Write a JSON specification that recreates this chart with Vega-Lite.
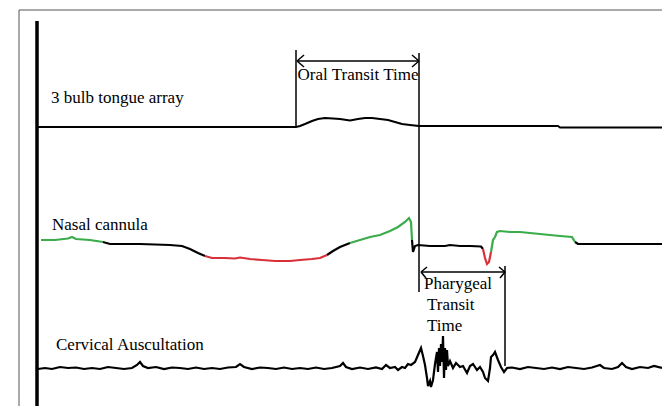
{
  "$schema": "https://vega.github.io/schema/vega-lite/v6.json",
  "width": 662,
  "height": 406,
  "autosize": {"type": "none"},
  "padding": 0,
  "background": "white",
  "config": {"view": {"stroke": null}},
  "datasets": {
    "frame": [
      {"x": 19, "y": 10, "x2": 662, "y2": 10},
      {"x": 19, "y": 10, "x2": 19, "y2": 406}
    ],
    "axis": [
      {"x": 37, "y": 21, "x2": 37, "y2": 406}
    ],
    "rules": [
      {"x": 296, "y": 50, "x2": 296, "y2": 127},
      {"x": 419, "y": 53, "x2": 419, "y2": 292},
      {"x": 297, "y": 61, "x2": 419, "y2": 61},
      {"x": 297, "y": 61, "x2": 304, "y2": 55},
      {"x": 297, "y": 61, "x2": 304, "y2": 67},
      {"x": 419, "y": 61, "x2": 412, "y2": 55},
      {"x": 419, "y": 61, "x2": 412, "y2": 67},
      {"x": 505, "y": 266, "x2": 505, "y2": 366},
      {"x": 421, "y": 272, "x2": 505, "y2": 272},
      {"x": 421, "y": 272, "x2": 427, "y2": 267},
      {"x": 421, "y": 272, "x2": 426, "y2": 278},
      {"x": 505, "y": 272, "x2": 499, "y2": 267},
      {"x": 505, "y": 272, "x2": 500, "y2": 278}
    ],
    "tongue": [
      {"x": 37, "y": 127}, {"x": 296, "y": 127}, {"x": 300, "y": 126}, {"x": 305, "y": 124},
      {"x": 312, "y": 121}, {"x": 318, "y": 119}, {"x": 325, "y": 118}, {"x": 333, "y": 118.5},
      {"x": 340, "y": 119}, {"x": 350, "y": 120.5}, {"x": 358, "y": 119}, {"x": 365, "y": 118},
      {"x": 372, "y": 118}, {"x": 380, "y": 119}, {"x": 388, "y": 120}, {"x": 395, "y": 122},
      {"x": 402, "y": 124}, {"x": 410, "y": 125}, {"x": 419, "y": 126}, {"x": 558, "y": 126},
      {"x": 560, "y": 127.5}, {"x": 662, "y": 127.5}
    ],
    "nasal": [
      {"seg": 1, "c": "g", "x": 41, "y": 240}, {"seg": 1, "c": "g", "x": 55, "y": 240},
      {"seg": 1, "c": "g", "x": 68, "y": 238.5}, {"seg": 1, "c": "g", "x": 72, "y": 237},
      {"seg": 1, "c": "g", "x": 76, "y": 239}, {"seg": 1, "c": "g", "x": 90, "y": 240},
      {"seg": 1, "c": "g", "x": 103, "y": 242},
      {"seg": 2, "c": "k", "x": 103, "y": 242}, {"seg": 2, "c": "k", "x": 110, "y": 244},
      {"seg": 2, "c": "k", "x": 140, "y": 244}, {"seg": 2, "c": "k", "x": 170, "y": 245},
      {"seg": 2, "c": "k", "x": 182, "y": 246}, {"seg": 2, "c": "k", "x": 190, "y": 249},
      {"seg": 2, "c": "k", "x": 198, "y": 253}, {"seg": 2, "c": "k", "x": 205, "y": 256},
      {"seg": 3, "c": "r", "x": 205, "y": 256}, {"seg": 3, "c": "r", "x": 212, "y": 258},
      {"seg": 3, "c": "r", "x": 225, "y": 258}, {"seg": 3, "c": "r", "x": 235, "y": 258.5},
      {"seg": 3, "c": "r", "x": 240, "y": 257.5}, {"seg": 3, "c": "r", "x": 250, "y": 259},
      {"seg": 3, "c": "r", "x": 262, "y": 260}, {"seg": 3, "c": "r", "x": 275, "y": 261},
      {"seg": 3, "c": "r", "x": 290, "y": 261}, {"seg": 3, "c": "r", "x": 300, "y": 260},
      {"seg": 3, "c": "r", "x": 312, "y": 259}, {"seg": 3, "c": "r", "x": 320, "y": 258},
      {"seg": 3, "c": "r", "x": 327, "y": 255},
      {"seg": 4, "c": "k", "x": 327, "y": 255}, {"seg": 4, "c": "k", "x": 333, "y": 251},
      {"seg": 4, "c": "k", "x": 340, "y": 247}, {"seg": 4, "c": "k", "x": 350, "y": 243},
      {"seg": 5, "c": "g", "x": 350, "y": 243}, {"seg": 5, "c": "g", "x": 360, "y": 240},
      {"seg": 5, "c": "g", "x": 370, "y": 237}, {"seg": 5, "c": "g", "x": 380, "y": 235},
      {"seg": 5, "c": "g", "x": 390, "y": 231}, {"seg": 5, "c": "g", "x": 398, "y": 227},
      {"seg": 5, "c": "g", "x": 405, "y": 222}, {"seg": 5, "c": "g", "x": 409, "y": 218},
      {"seg": 5, "c": "g", "x": 411, "y": 222}, {"seg": 5, "c": "g", "x": 412, "y": 240},
      {"seg": 6, "c": "k", "x": 412, "y": 240}, {"seg": 6, "c": "k", "x": 413, "y": 252},
      {"seg": 6, "c": "k", "x": 415, "y": 246}, {"seg": 6, "c": "k", "x": 418, "y": 245},
      {"seg": 6, "c": "k", "x": 430, "y": 246}, {"seg": 6, "c": "k", "x": 445, "y": 246},
      {"seg": 6, "c": "k", "x": 450, "y": 245}, {"seg": 6, "c": "k", "x": 460, "y": 246},
      {"seg": 6, "c": "k", "x": 470, "y": 246}, {"seg": 6, "c": "k", "x": 481, "y": 246.5},
      {"seg": 6, "c": "k", "x": 483, "y": 249},
      {"seg": 7, "c": "r", "x": 483, "y": 249}, {"seg": 7, "c": "r", "x": 485, "y": 258},
      {"seg": 7, "c": "r", "x": 487, "y": 264}, {"seg": 7, "c": "r", "x": 489, "y": 262},
      {"seg": 7, "c": "r", "x": 491, "y": 252},
      {"seg": 8, "c": "g", "x": 491, "y": 252}, {"seg": 8, "c": "g", "x": 493, "y": 240},
      {"seg": 8, "c": "g", "x": 495, "y": 237}, {"seg": 8, "c": "g", "x": 497, "y": 232},
      {"seg": 8, "c": "g", "x": 500, "y": 231}, {"seg": 8, "c": "g", "x": 510, "y": 232},
      {"seg": 8, "c": "g", "x": 520, "y": 232}, {"seg": 8, "c": "g", "x": 530, "y": 233},
      {"seg": 8, "c": "g", "x": 540, "y": 234}, {"seg": 8, "c": "g", "x": 550, "y": 235},
      {"seg": 8, "c": "g", "x": 560, "y": 236}, {"seg": 8, "c": "g", "x": 572, "y": 237},
      {"seg": 8, "c": "g", "x": 575, "y": 242},
      {"seg": 9, "c": "k", "x": 575, "y": 242}, {"seg": 9, "c": "k", "x": 578, "y": 244},
      {"seg": 9, "c": "k", "x": 620, "y": 244}, {"seg": 9, "c": "k", "x": 662, "y": 244}
    ],
    "cerv": [
      {"x": 38, "y": 369}, {"x": 45, "y": 368}, {"x": 52, "y": 369}, {"x": 60, "y": 367},
      {"x": 68, "y": 368}, {"x": 76, "y": 367.5}, {"x": 84, "y": 369}, {"x": 92, "y": 368},
      {"x": 100, "y": 369}, {"x": 108, "y": 367}, {"x": 116, "y": 368}, {"x": 124, "y": 369},
      {"x": 132, "y": 368}, {"x": 137, "y": 365}, {"x": 140, "y": 362}, {"x": 143, "y": 366},
      {"x": 148, "y": 368}, {"x": 156, "y": 367}, {"x": 164, "y": 369}, {"x": 172, "y": 367.5},
      {"x": 180, "y": 368}, {"x": 188, "y": 369}, {"x": 196, "y": 367.5}, {"x": 204, "y": 369},
      {"x": 212, "y": 368}, {"x": 220, "y": 369}, {"x": 228, "y": 367.5}, {"x": 236, "y": 367},
      {"x": 240, "y": 364}, {"x": 244, "y": 367}, {"x": 252, "y": 369}, {"x": 260, "y": 367.5},
      {"x": 268, "y": 368}, {"x": 276, "y": 369}, {"x": 284, "y": 367.5}, {"x": 292, "y": 369},
      {"x": 300, "y": 368}, {"x": 308, "y": 369}, {"x": 316, "y": 367.5}, {"x": 324, "y": 369},
      {"x": 332, "y": 368}, {"x": 340, "y": 366}, {"x": 343, "y": 363}, {"x": 346, "y": 367},
      {"x": 352, "y": 369}, {"x": 360, "y": 367.5}, {"x": 368, "y": 369}, {"x": 376, "y": 367.5},
      {"x": 382, "y": 369}, {"x": 386, "y": 365}, {"x": 390, "y": 368}, {"x": 395, "y": 367},
      {"x": 398, "y": 370}, {"x": 402, "y": 367}, {"x": 405, "y": 368}, {"x": 408, "y": 364},
      {"x": 411, "y": 365}, {"x": 415, "y": 362}, {"x": 418, "y": 355}, {"x": 421, "y": 348},
      {"x": 423, "y": 356}, {"x": 425, "y": 365}, {"x": 427, "y": 378}, {"x": 428, "y": 386},
      {"x": 430, "y": 381}, {"x": 431, "y": 387}, {"x": 433, "y": 380}, {"x": 435, "y": 364},
      {"x": 437, "y": 352}, {"x": 438, "y": 372}, {"x": 439, "y": 348}, {"x": 440, "y": 366},
      {"x": 441, "y": 344}, {"x": 442, "y": 362}, {"x": 443, "y": 336}, {"x": 444, "y": 378},
      {"x": 445, "y": 348}, {"x": 446, "y": 370}, {"x": 447, "y": 350}, {"x": 448, "y": 366},
      {"x": 450, "y": 361}, {"x": 453, "y": 368}, {"x": 456, "y": 363}, {"x": 460, "y": 367},
      {"x": 463, "y": 366}, {"x": 467, "y": 373}, {"x": 470, "y": 366}, {"x": 473, "y": 364},
      {"x": 477, "y": 370}, {"x": 480, "y": 367}, {"x": 483, "y": 372}, {"x": 485, "y": 378},
      {"x": 488, "y": 381}, {"x": 490, "y": 368}, {"x": 491, "y": 357}, {"x": 493, "y": 355},
      {"x": 495, "y": 352}, {"x": 498, "y": 360}, {"x": 501, "y": 367}, {"x": 504, "y": 372},
      {"x": 507, "y": 368}, {"x": 512, "y": 367.5}, {"x": 520, "y": 369}, {"x": 528, "y": 367},
      {"x": 536, "y": 368}, {"x": 544, "y": 369}, {"x": 552, "y": 367.5}, {"x": 560, "y": 369},
      {"x": 568, "y": 367}, {"x": 576, "y": 368}, {"x": 584, "y": 369}, {"x": 592, "y": 367.5},
      {"x": 600, "y": 365}, {"x": 604, "y": 368}, {"x": 612, "y": 369}, {"x": 618, "y": 367},
      {"x": 622, "y": 363}, {"x": 626, "y": 367}, {"x": 632, "y": 369}, {"x": 640, "y": 367},
      {"x": 648, "y": 368}, {"x": 654, "y": 366}, {"x": 662, "y": 368}
    ],
    "labelsLeft": [
      {"x": 51, "y": 98, "t": "3 bulb tongue array"},
      {"x": 52, "y": 225, "t": "Nasal cannula"},
      {"x": 56, "y": 345, "t": "Cervical Auscultation"},
      {"x": 424, "y": 284, "t": "Pharygeal"},
      {"x": 427, "y": 305, "t": "Transit"},
      {"x": 427, "y": 326, "t": "Time"}
    ],
    "labelsCenter": [
      {"x": 358, "y": 75, "t": "Oral Transit Time"}
    ]
  },
  "layer": [
    {
      "data": {"name": "frame"},
      "mark": {"type": "rule", "color": "#555555", "strokeWidth": 1},
      "encoding": {
        "x": {"field": "x", "type": "quantitative", "scale": {"domain": [0, 662], "nice": false, "zero": false}, "axis": null},
        "y": {"field": "y", "type": "quantitative", "scale": {"domain": [406, 0], "nice": false, "zero": false}, "axis": null},
        "x2": {"field": "x2"},
        "y2": {"field": "y2"}
      }
    },
    {
      "data": {"name": "axis"},
      "mark": {"type": "rule", "color": "#000000", "strokeWidth": 3.5},
      "encoding": {
        "x": {"field": "x", "type": "quantitative"},
        "y": {"field": "y", "type": "quantitative"},
        "x2": {"field": "x2"},
        "y2": {"field": "y2"}
      }
    },
    {
      "data": {"name": "rules"},
      "mark": {"type": "rule", "color": "#000000", "strokeWidth": 1.5},
      "encoding": {
        "x": {"field": "x", "type": "quantitative"},
        "y": {"field": "y", "type": "quantitative"},
        "x2": {"field": "x2"},
        "y2": {"field": "y2"}
      }
    },
    {
      "data": {"name": "tongue"},
      "mark": {"type": "line", "color": "#000000", "strokeWidth": 2},
      "encoding": {
        "x": {"field": "x", "type": "quantitative"},
        "y": {"field": "y", "type": "quantitative"},
        "order": {"field": "x"}
      }
    },
    {
      "data": {"name": "nasal"},
      "mark": {"type": "line", "strokeWidth": 2.2},
      "encoding": {
        "x": {"field": "x", "type": "quantitative"},
        "y": {"field": "y", "type": "quantitative"},
        "detail": {"field": "seg", "type": "nominal"},
        "color": {"field": "c", "type": "nominal", "scale": {"domain": ["g", "k", "r"], "range": ["#3aac4a", "#000000", "#d93039"]}, "legend": null},
        "order": {"field": "x"}
      }
    },
    {
      "data": {"name": "cerv"},
      "mark": {"type": "line", "color": "#000000", "strokeWidth": 2.2},
      "encoding": {
        "x": {"field": "x", "type": "quantitative"},
        "y": {"field": "y", "type": "quantitative"},
        "order": {"field": "x"}
      }
    },
    {
      "data": {"name": "labelsLeft"},
      "mark": {"type": "text", "font": "Liberation Serif", "fontSize": 17, "color": "#000000", "baseline": "middle", "align": "left"},
      "encoding": {
        "x": {"field": "x", "type": "quantitative"},
        "y": {"field": "y", "type": "quantitative"},
        "text": {"field": "t"}
      }
    },
    {
      "data": {"name": "labelsCenter"},
      "mark": {"type": "text", "font": "Liberation Serif", "fontSize": 17, "color": "#000000", "baseline": "middle", "align": "center"},
      "encoding": {
        "x": {"field": "x", "type": "quantitative"},
        "y": {"field": "y", "type": "quantitative"},
        "text": {"field": "t"}
      }
    }
  ]
}
